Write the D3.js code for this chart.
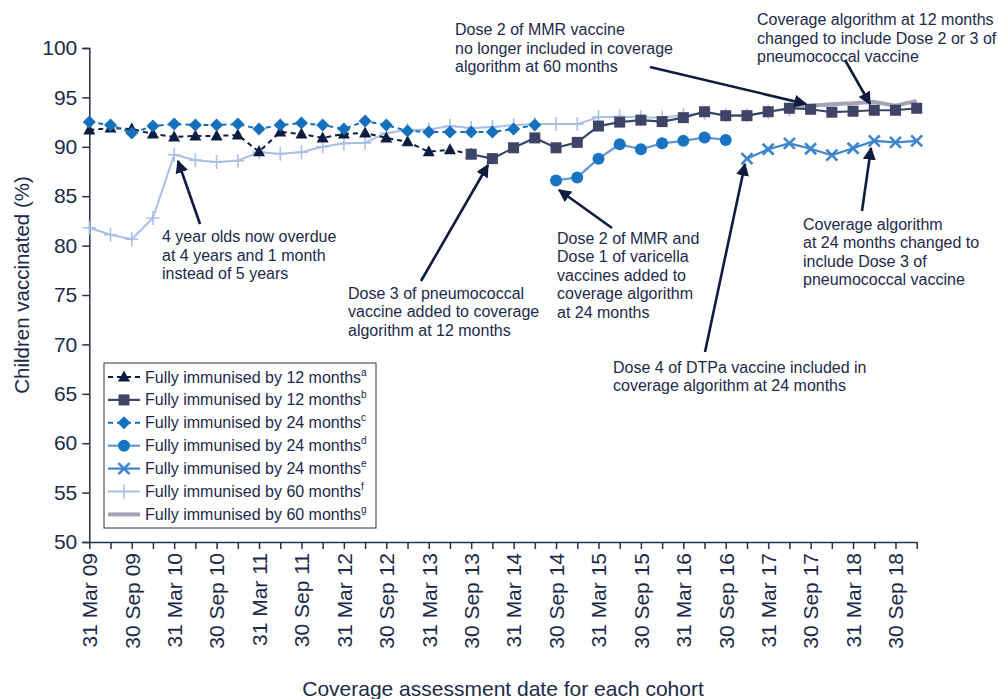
<!DOCTYPE html>
<html>
<head>
<meta charset="utf-8">
<script src="https://cdn.jsdelivr.net/npm/d3@7"></script>
<style>
  body { margin: 0; background: #fff; }
  text { font-family: "Liberation Sans", Arial, Helvetica, sans-serif; fill: #1c2a4a; }
</style>
</head>
<body>
<svg id="chart" width="998" height="699"></svg>
<script>
// Quarterly coverage assessment dates
const quarters = [
  "31 Mar 09","30 Jun 09","30 Sep 09","31 Dec 09",
  "31 Mar 10","30 Jun 10","30 Sep 10","31 Dec 10",
  "31 Mar 11","30 Jun 11","30 Sep 11","31 Dec 11",
  "31 Mar 12","30 Jun 12","30 Sep 12","31 Dec 12",
  "31 Mar 13","30 Jun 13","30 Sep 13","31 Dec 13",
  "31 Mar 14","30 Jun 14","30 Sep 14","31 Dec 14",
  "31 Mar 15","30 Jun 15","30 Sep 15","31 Dec 15",
  "31 Mar 16","30 Jun 16","30 Sep 16","31 Dec 16",
  "31 Mar 17","30 Jun 17","30 Sep 17","31 Dec 17",
  "31 Mar 18","30 Jun 18","30 Sep 18","31 Dec 18"
];
// Labelled ticks (March and September)
const tickLabels = quarters.filter((q, i) => i % 2 === 0);
const yTicks = [50, 55, 60, 65, 70, 75, 80, 85, 90, 95, 100];

// Coverage (%) per series; each series starts at the given quarter
const fi12aStart = "31 Mar 09";
const fi12a = [91.7, 91.9, 91.8, 91.3, 91.0, 91.1, 91.1, 91.2, 89.5, 91.5, 91.3, 90.9, 91.3, 91.4, 90.9, 90.5, 89.5, 89.7, 89.25];
const fi12bStart = "30 Sep 13";
const fi12b = [89.25, 88.8, 89.9, 90.9, 89.9, 90.45, 92.1, 92.5, 92.7, 92.55, 92.95, 93.55, 93.15, 93.15, 93.55, 93.9, 93.8, 93.5, 93.6, 93.7, 93.7, 93.9];
const fi24cStart = "31 Mar 09";
const fi24c = [92.5, 92.2, 91.4, 92.1, 92.3, 92.2, 92.2, 92.3, 91.8, 92.2, 92.4, 92.2, 91.8, 92.6, 92.2, 91.6, 91.5, 91.5, 91.5, 91.5, 91.8, 92.2];
const fi24dStart = "30 Sep 14";
const fi24d = [86.6, 86.9, 88.8, 90.25, 89.75, 90.35, 90.6, 90.95, 90.7];
const fi24eStart = "31 Dec 16";
const fi24e = [88.8, 89.75, 90.35, 89.8, 89.15, 89.85, 90.6, 90.45, 90.6];
const fi60fStart = "31 Mar 09";
const fi60f = [81.8, 81.1, 80.65, 82.8, 89.2, 88.65, 88.45, 88.6, 89.45, 89.3, 89.45, 90.0, 90.35, 90.4, 91.4, 91.7, 91.75, 92.1, 91.9, 92.0, 92.2, 92.3, 92.3, 92.3, 93.0, 93.05, 93.0, 92.95, 93.2, 93.45, 93.2, 93.2, 93.55, 93.8];
const fi60gStart = "30 Jun 17";
const fi60g = [94.05, 94.15, 94.3, 94.4, 94.55, 94.15, 94.65];

const svg = d3.select("#chart");
const x = d3.scalePoint().domain(quarters).range([89.3, 916.7]);
const y = d3.scaleLinear().domain([50, 100]).range([542, 48]);
const axisColor = "#27304d";

function points(start, values) {
  const i0 = quarters.indexOf(start);
  return values.map((v, i) => ({ q: quarters[i0 + i], v }));
}

// Marker shapes
const markers = {
  triangle: (g, c) => g.append("path").attr("d", "M0,-6.5L6,4.5L-6,4.5Z").attr("fill", c),
  square: (g, c) => g.append("rect").attr("x", -5.5).attr("y", -5.5).attr("width", 11).attr("height", 11).attr("fill", c),
  diamond: (g, c) => g.append("path").attr("d", "M0,-6.5L6.5,0L0,6.5L-6.5,0Z").attr("fill", c),
  circle: (g, c) => g.append("circle").attr("r", 6).attr("fill", c),
  times: (g, c) => g.append("path").attr("d", "M-5.5,-5.5L5.5,5.5M5.5,-5.5L-5.5,5.5").attr("stroke", c).attr("stroke-width", 2.6).attr("fill", "none"),
  plus: (g, c) => g.append("path").attr("d", "M-6.5,0L6.5,0M0,-7L0,7").attr("stroke", c).attr("stroke-width", 1.6).attr("fill", "none"),
  none: () => {}
};

const series = [
  { data: points(fi60fStart, fi60f), line: "#a8c0e6", marker: "plus", mcol: "#a8c0e6", width: 2, dash: null, sup: "f", label: "Fully immunised by 60 months" },
  { data: points(fi60gStart, fi60g), line: "#a4a4b6", marker: "none", mcol: null, width: 4, dash: null, sup: "g", label: "Fully immunised by 60 months" },
  { data: points(fi12aStart, fi12a), line: "#0d1d42", marker: "triangle", mcol: "#0d1d42", width: 2, dash: "5,4", sup: "a", label: "Fully immunised by 12 months" },
  { data: points(fi24cStart, fi24c), line: "#1470bd", marker: "diamond", mcol: "#1470bd", width: 2, dash: "5,4", sup: "c", label: "Fully immunised by 24 months" },
  { data: points(fi12bStart, fi12b), line: "#3d4465", marker: "square", mcol: "#3d4465", width: 2.2, dash: null, sup: "b", label: "Fully immunised by 12 months" },
  { data: points(fi24dStart, fi24d), line: "#6196d6", marker: "circle", mcol: "#1873c1", width: 2.2, dash: null, sup: "d", label: "Fully immunised by 24 months" },
  { data: points(fi24eStart, fi24e), line: "#3d85cd", marker: "times", mcol: "#3d85cd", width: 2.2, dash: null, sup: "e", label: "Fully immunised by 24 months" }
];

// Axes
const yAxis = d3.axisLeft(y).tickValues(yTicks).tickSize(7).tickPadding(5);
const yg = svg.append("g").attr("transform", `translate(${x.range()[0]},0)`).call(yAxis);
yg.select(".domain").attr("stroke", axisColor).attr("stroke-width", 1.5);
yg.selectAll(".tick line").attr("stroke", axisColor).attr("stroke-width", 1.5);
yg.selectAll(".tick text").attr("font-size", 21).attr("fill", "#1c2a4a")
  .attr("font-family", "Liberation Sans, Arial, sans-serif");

const xAxis = d3.axisBottom(x).tickSize(7).tickSizeOuter(0)
  .tickFormat(d => tickLabels.includes(d) ? d : "");
const xg = svg.append("g").attr("transform", `translate(0,${y(50)})`).call(xAxis);
xg.select(".domain").attr("stroke", axisColor).attr("stroke-width", 1.5);
xg.selectAll(".tick line").attr("stroke", axisColor).attr("stroke-width", 1.5);
xg.selectAll(".tick text")
  .attr("font-size", 21).attr("fill", "#1c2a4a")
  .attr("font-family", "Liberation Sans, Arial, sans-serif")
  .attr("text-anchor", "end")
  .attr("transform", "translate(0,11) rotate(-90)")
  .attr("dy", "0.35em").attr("x", 0).attr("y", 0);

// Axis titles
svg.append("text").attr("x", 503).attr("y", 696).attr("text-anchor", "middle")
  .attr("font-size", 21).text("Coverage assessment date for each cohort");
svg.append("text").attr("transform", "translate(29,285) rotate(-90)").attr("text-anchor", "middle")
  .attr("font-size", 20.5).text("Children vaccinated (%)");

// Series lines and markers
const lineGen = d3.line().x(d => x(d.q)).y(d => y(d.v));
series.forEach(s => {
  svg.append("path").datum(s.data).attr("d", lineGen)
    .attr("fill", "none").attr("stroke", s.line).attr("stroke-width", s.width)
    .attr("stroke-dasharray", s.dash).attr("stroke-linejoin", "round");
  s.data.forEach(d => {
    const g = svg.append("g").attr("transform", `translate(${x(d.q)},${y(d.v)})`);
    markers[s.marker](g, s.mcol);
  });
});

// Legend
const legendOrder = ["a", "b", "c", "d", "e", "f", "g"];
const lg = svg.append("g");
lg.append("rect").attr("x", 104).attr("y", 363).attr("width", 272).attr("height", 165)
  .attr("fill", "#fff").attr("stroke", "#27304d").attr("stroke-width", 1);
legendOrder.forEach((k, i) => {
  const s = series.find(t => t.sup === k);
  const cy = 377 + i * 22.9;
  lg.append("line").attr("x1", 108).attr("x2", 140).attr("y1", cy).attr("y2", cy)
    .attr("stroke", s.line).attr("stroke-width", s.width).attr("stroke-dasharray", s.dash);
  const g = lg.append("g").attr("transform", `translate(124,${cy})`);
  markers[s.marker](g, s.mcol);
  const t = lg.append("text").attr("x", 145).attr("y", cy + 5.5).attr("font-size", 16);
  t.append("tspan").text(s.label);
  t.append("tspan").attr("font-size", 10).attr("dy", -7).text(s.sup);
});

// Annotations
const annotations = [
  { lines: ["4 year olds now overdue", "at 4 years and 1 month", "instead of 5 years"], tx: 162, ty: 242, from: [200, 224], to: [178, 161] },
  { lines: ["Dose 3 of pneumococcal", "vaccine added to coverage", "algorithm at 12 months"], tx: 348, ty: 298.5, from: [421, 281], to: [488, 165] },
  { lines: ["Dose 2 of MMR and", "Dose 1 of varicella", "vaccines added to", "coverage algorithm", "at 24 months"], tx: 557, ty: 243.5, from: [612, 228], to: [559, 190] },
  { lines: ["Dose 4 of DTPa vaccine included in", "coverage algorithm at 24 months"], tx: 613, ty: 372.5, from: [705, 352], to: [745, 164] },
  { lines: ["Coverage algorithm", "at 24 months changed to", "include Dose 3 of", "pneumococcal vaccine"], tx: 803, ty: 229.5, from: [862, 211], to: [871, 148] },
  { lines: ["Dose 2 of MMR vaccine", "no longer included in coverage", "algorithm at 60 months"], tx: 455, ty: 35, from: [650, 67], to: [806, 104] },
  { lines: ["Coverage algorithm at 12 months", "changed to include Dose 2 or 3 of", "pneumococcal vaccine"], tx: 757, ty: 25, from: [845, 60], to: [870, 104] }
];

const arrowColor = "#0e1c3f";
svg.append("defs").append("marker").attr("id", "arrowhead")
  .attr("viewBox", "0 0 10 10").attr("refX", 9).attr("refY", 5)
  .attr("markerWidth", 5).attr("markerHeight", 5).attr("orient", "auto")
  .append("path").attr("d", "M0,0L10,5L0,10Z").attr("fill", arrowColor);

annotations.forEach(a => {
  svg.append("line").attr("x1", a.from[0]).attr("y1", a.from[1])
    .attr("x2", a.to[0]).attr("y2", a.to[1])
    .attr("stroke", arrowColor).attr("stroke-width", 2.6).attr("marker-end", "url(#arrowhead)");
  const t = svg.append("text").attr("font-size", 16);
  a.lines.forEach((l, i) => t.append("tspan").attr("x", a.tx).attr("y", a.ty + i * 18.6).text(l));
});
</script>
</body>
</html>
